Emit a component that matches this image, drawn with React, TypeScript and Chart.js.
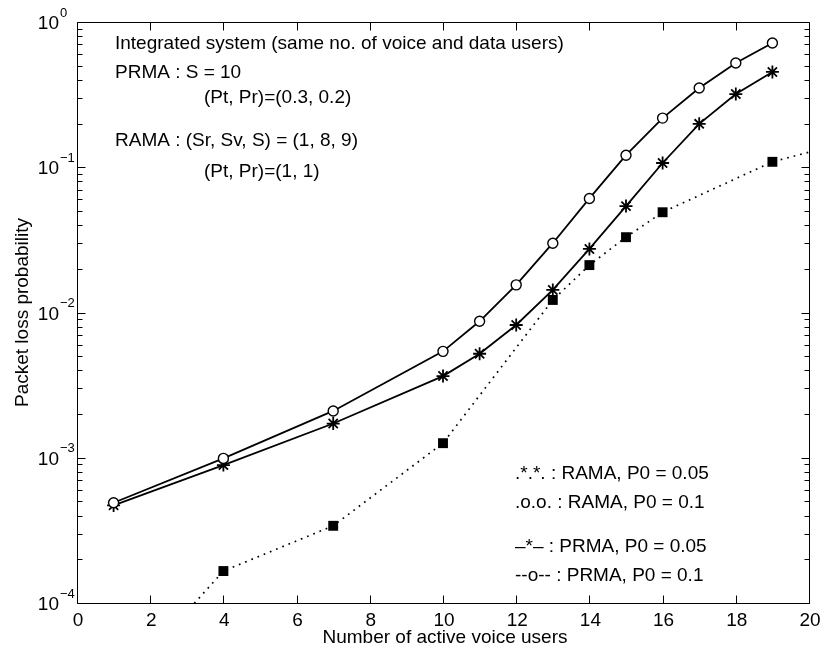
import React, { useEffect, useRef } from 'react';
import { Chart, registerables } from 'chart.js';

Chart.register(...registerables);

// ---- data ----
const prmaUsers = [1, 4, 7, 10, 11, 12, 13, 14, 15, 16, 17, 18, 19];
const prmaLossP01 = [4.9e-4, 9.9e-4, 2.1e-3, 5.4e-3, 8.7e-3, 1.55e-2, 3.0e-2, 6.1e-2, 0.121, 0.218, 0.351, 0.522, 0.717];
const prmaLossP005 = [4.7e-4, 8.9e-4, 1.72e-3, 3.65e-3, 5.2e-3, 8.2e-3, 1.43e-2, 2.74e-2, 5.4e-2, 0.107, 0.199, 0.319, 0.453];
const ramaUsers = [1, 4, 7, 10, 13, 14, 15, 16, 19, 20];
const ramaLoss = [2.4e-5, 1.66e-4, 3.4e-4, 1.26e-3, 1.22e-2, 2.12e-2, 3.3e-2, 4.9e-2, 0.109, 0.127];
const ramaMarkerShown = [false, true, true, true, true, true, true, true, true, false];

const xTickValues = [0, 2, 4, 6, 8, 10, 12, 14, 16, 18, 20];
const xTickLabels = ['0', '2', '4', '6', '8', '10', '12', '14', '16', '18', '20'];
const yTickValues = [1, 0.1, 0.01, 0.001, 0.0001];
const yTickExponents = ['0', '\u22121', '\u22122', '\u22123', '\u22124'];
const yMinorMultipliers = [2, 3, 4, 5, 6, 7, 8, 9];

const xAxisTitle = 'Number of active voice users';
const yAxisTitle = 'Packet loss probability';

const noteLines = [
  'Integrated system (same no. of voice and data users)',
  'PRMA : S = 10',
  '(Pt, Pr)=(0.3, 0.2)',
  'RAMA : (Sr, Sv, S) = (1, 8, 9)',
  '(Pt, Pr)=(1, 1)',
];
const keyLines = [
  '.*.*. : RAMA, P0 = 0.05',
  '.o.o. : RAMA, P0 = 0.1',
  '\u2013*\u2013 : PRMA, P0 = 0.05',
  '--o-- : PRMA, P0 = 0.1',
];

// ---- layout (pixels) ----
const notePos = [
  [115, 44],
  [115, 73],
  [204, 98],
  [115, 141],
  [204, 172],
];
const keyPos = [
  [515, 474],
  [515, 503],
  [515, 547],
  [515, 576],
];

const FONT = "'Liberation Sans', Arial, Helvetica, sans-serif";

const decorPlugin = {
  id: 'decor',
  afterDraw(chart: any) {
    const ctx = chart.ctx as CanvasRenderingContext2D;
    const xs = chart.scales.x;
    const ys = chart.scales.y;
    const { left, right, top, bottom } = chart.chartArea;
    const L = Math.round(left) + 0.5;
    const R = Math.round(right) + 0.5;
    const T = Math.round(top) + 0.5;
    const B = Math.round(bottom) + 0.5;
    ctx.save();
    ctx.strokeStyle = '#000';
    ctx.lineWidth = 1;
    ctx.beginPath();
    ctx.rect(L, T, R - L, B - T);
    ctx.stroke();

    ctx.beginPath();
    xTickValues.forEach((v) => {
      const px = Math.round(xs.getPixelForValue(v)) + 0.5;
      ctx.moveTo(px, B);
      ctx.lineTo(px, B - 8);
      ctx.moveTo(px, T);
      ctx.lineTo(px, T + 8);
    });
    yTickValues.forEach((v) => {
      const py = Math.round(ys.getPixelForValue(v)) + 0.5;
      ctx.moveTo(L, py);
      ctx.lineTo(L + 8, py);
      ctx.moveTo(R, py);
      ctx.lineTo(R - 8, py);
    });
    yTickValues.forEach((v) => {
      if (v >= 1) return;
      yMinorMultipliers.forEach((m) => {
        const py = Math.round(ys.getPixelForValue(v * m)) + 0.5;
        ctx.moveTo(L, py);
        ctx.lineTo(L + 5, py);
        ctx.moveTo(R, py);
        ctx.lineTo(R - 5, py);
      });
    });
    ctx.stroke();

    ctx.fillStyle = '#000';
    ctx.font = `19px ${FONT}`;
    ctx.textAlign = 'center';
    ctx.textBaseline = 'middle';
    xTickValues.forEach((v, i) => {
      ctx.fillText(xTickLabels[i], xs.getPixelForValue(v) + 1, bottom + 18);
    });
    yTickValues.forEach((v, i) => {
      const py = ys.getPixelForValue(v);
      ctx.font = `19px ${FONT}`;
      ctx.textAlign = 'right';
      ctx.textBaseline = 'middle';
      ctx.fillText('10', 59, py + 2);
      ctx.font = `13px ${FONT}`;
      ctx.textAlign = 'left';
      ctx.fillText(yTickExponents[i], 60, py - 9);
    });

    ctx.font = `19px ${FONT}`;
    ctx.textAlign = 'center';
    ctx.textBaseline = 'middle';
    ctx.fillText(xAxisTitle, (left + right) / 2 + 2, bottom + 35);
    ctx.save();
    ctx.translate(23, (top + bottom) / 2);
    ctx.rotate(-Math.PI / 2);
    ctx.fillText(yAxisTitle, 0, 0);
    ctx.restore();

    ctx.textAlign = 'left';
    ctx.textBaseline = 'middle';
    noteLines.forEach((t, i) => ctx.fillText(t, notePos[i][0], notePos[i][1]));
    keyLines.forEach((t, i) => ctx.fillText(t, keyPos[i][0], keyPos[i][1]));
    ctx.restore();
  },
};

export default function App() {
  const ref = useRef<HTMLCanvasElement | null>(null);
  useEffect(() => {
    document.body.style.margin = '0';
    const canvas = ref.current;
    if (!canvas) return;
    const chart = new Chart(canvas, {
      type: 'line',
      data: {
        datasets: [
          {
            label: 'PRMA, P0 = 0.1',
            data: prmaUsers.map((u, i) => ({ x: u, y: prmaLossP01[i] })),
            borderColor: '#000',
            borderWidth: 1.8,
            pointStyle: 'circle',
            pointRadius: 5,
            pointBorderWidth: 1.4,
            pointBackgroundColor: '#fff',
            pointBorderColor: '#000',
            tension: 0,
          },
          {
            label: 'PRMA, P0 = 0.05',
            data: prmaUsers.map((u, i) => ({ x: u, y: prmaLossP005[i] })),
            borderColor: '#000',
            borderWidth: 1.8,
            pointStyle: 'star',
            pointRadius: 6.5,
            pointBorderWidth: 1.8,
            pointBackgroundColor: '#000',
            pointBorderColor: '#000',
            tension: 0,
          },
          {
            label: 'RAMA, P0 = 0.05 / 0.1',
            data: ramaUsers.map((u, i) => ({ x: u, y: ramaLoss[i] })),
            borderColor: '#000',
            borderWidth: 1.7,
            borderDash: [1.7, 5],
            pointStyle: 'rect',
            pointRadius: ramaMarkerShown.map((s) => (s ? 7 : 0)),
            pointBorderWidth: 0,
            pointBackgroundColor: '#000',
            pointBorderColor: '#000',
            tension: 0,
          },
        ],
      },
      options: {
        animation: false,
        responsive: false,
        maintainAspectRatio: false,
        layout: { padding: { left: 77, right: 11, top: 22, bottom: 51 } },
        plugins: { legend: { display: false }, tooltip: { enabled: false } },
        scales: {
          x: { type: 'linear', min: 0, max: 20, display: false },
          y: { type: 'logarithmic', min: 1e-4, max: 1, display: false },
        },
      },
      plugins: [decorPlugin],
    });
    return () => chart.destroy();
  }, []);
  return (
    <canvas
      ref={ref}
      width={820}
      height={654}
      style={{ display: 'block', width: 820, height: 654, background: '#fff' }}
    />
  );
}
